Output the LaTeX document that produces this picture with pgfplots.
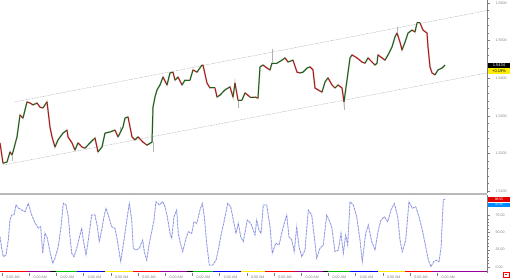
\documentclass[border=0pt]{standalone}
\usepackage{fontspec}
\setmainfont{Liberation Sans}
\usepackage{pgfplots}
\usepackage{pgfplotstable}
\pgfplotsset{compat=1.18}
\definecolor{upc}{RGB}{30,95,20}
\definecolor{dnc}{RGB}{180,20,20}
\definecolor{axgray}{RGB}{125,125,125}
\definecolor{kline}{RGB}{150,100,200}
\definecolor{dline}{RGB}{185,212,248}

\pgfplotstableread{
x p c
0 1.5228 1
3 1.5174 0
7 1.5177 0
10 1.5204 1
12 1.5196 0
13 1.5204 0
17 1.5244 0
20 1.5302 1
23 1.5294 0
27 1.5337 1
30 1.5334 1
33 1.5329 0
37 1.5334 1
40 1.5323 1
43 1.5321 0
47 1.5337 1
48 1.5315 1
50 1.5270 1
52 1.5244 1
55 1.5217 0
58 1.5236 0
63 1.5254 0
67 1.5262 1
68 1.5244 1
72 1.5228 1
75 1.5209 0
78 1.5228 1
82 1.5217 1
85 1.5214 0
90 1.5228 0
95 1.5241 1
98 1.5204 0
102 1.5217 0
105 1.5254 0
110 1.5257 0
115 1.5262 1
118 1.5244 0
123 1.5270 0
125 1.5294 0
128 1.5297 1
132 1.5244 1
135 1.5236 0
138 1.5244 1
143 1.5230 1
147 1.5222 0
152 1.5230 0
153 1.5323 0
155 1.5350 0
157 1.5369 0
160 1.5382 0
163 1.5403 1
167 1.5382 0
170 1.5414 0
173 1.5416 1
175 1.5395 0
178 1.5403 1
182 1.5382 0
185 1.5395 0
190 1.5395 0
193 1.5422 1
197 1.5416 0
202 1.5435 0
203 1.5435 1
207 1.5387 1
210 1.5374 0
215 1.5374 1
217 1.5350 0
220 1.5355 0
225 1.5369 0
230 1.5377 1
233 1.5350 0
235 1.5387 1
238 1.5342 0
242 1.5342 0
245 1.5361 1
250 1.5350 0
255 1.5350 1
258 1.5347 0
260 1.5430 0
263 1.5435 1
267 1.5427 1
270 1.5422 0
272 1.5440 0
277 1.5440 0
282 1.5448 0
285 1.5454 1
288 1.5443 0
293 1.5448 1
297 1.5416 1
300 1.5414 0
303 1.5416 0
307 1.5427 0
310 1.5430 1
313 1.5422 1
315 1.5374 1
318 1.5369 1
322 1.5363 0
325 1.5390 0
328 1.5401 1
332 1.5382 1
335 1.5374 0
338 1.5382 1
342 1.5374 1
344 1.5337 0
347 1.5395 0
350 1.5454 0
352 1.5462 1
357 1.5454 1
362 1.5443 1
365 1.5440 0
368 1.5454 1
372 1.5443 1
375 1.5435 0
377 1.5440 0
378 1.5462 1
382 1.5454 1
385 1.5448 0
388 1.5462 0
392 1.5483 0
395 1.5510 0
397 1.5520 1
400 1.5496 1
402 1.5475 0
405 1.5496 0
408 1.5520 0
412 1.5528 1
415 1.5523 0
417 1.5547 0
420 1.5547 1
423 1.5528 1
427 1.5520 1
428 1.5483 1
430 1.5430 1
432 1.5414 1
435 1.5409 0
438 1.5422 0
442 1.5427 0
445 1.5435 0
}\price

\pgfplotstableread{
x v
0 43.9
1.7 27.5
3.3 14.9
6 17.4
8.3 39.1
10 68.1
11.7 75.4
14 75.4
16 89.9
18.3 85.5
21.7 82.6
25 80.1
28.3 92.3
31.7 75.4
35 63.8
38.3 56.5
40.7 58.4
42.7 19.9
45 49.3
47.3 42.0
50 22.2
52.7 5.4
55 13.0
58.3 29.4
61 58.4
63.3 92.3
66 89.9
68.3 72.9
70 43.9
71.7 19.9
74 14.9
76.7 27.1
80 46.4
81.7 56.1
83.3 39.1
86 17.4
88.3 39.1
91.7 75.4
95 75.4
97.3 58.4
99.3 36.7
101.7 53.6
104 72.9
106 85.1
108.3 75.4
111.7 58.4
115 56.1
117.3 39.1
120.7 7.7
124 39.1
127.3 72.9
129.3 92.3
131.7 68.1
133.3 27.1
136 24.6
139.3 27.1
142.7 39.1
144.3 22.2
146.7 10.1
149.3 34.3
151.7 51.1
154 68.1
156 94.6
159.3 89.9
162.7 94.6
165 87.4
167.3 72.9
170 48.8
171.7 41.6
174 72.9
176.7 82.6
178.3 48.8
180 36.7
182.7 22.2
186 41.6
188.3 51.1
191.7 48.8
194 65.6
196.7 63.3
200 82.6
202.3 92.3
204.3 72.9
206.7 34.3
209.3 2.9
212.7 2.9
216 10.1
218.3 24.6
220.7 43.9
224 65.6
227.7 92.3
230.7 87.4
233.3 68.1
236 48.8
238.3 63.3
240.7 43.9
243.3 36.7
247.3 68.1
250.7 63.3
255 46.4
256.7 68.1
259 53.6
261 48.8
263.3 89.9
266.7 89.9
270 58.4
272.3 19.9
275.7 34.3
279 31.9
283.3 58.4
286.7 75.4
289 43.9
291.7 39.1
294.3 22.2
296.7 58.4
299 29.4
301.7 14.9
305 24.6
308.3 82.6
311.7 75.4
314.3 43.9
316.7 12.6
320 27.1
323.3 31.9
326.7 75.4
329 68.1
331.7 58.4
335 22.2
338.3 24.6
341 48.8
343.3 19.9
345.7 46.4
347.7 31.9
350 94.6
353.3 89.9
356.7 72.9
360 39.1
362.3 7.7
365.7 48.8
368.3 60.9
371.7 36.7
375 24.6
378.3 53.6
381 68.1
384.3 72.9
387.7 65.6
391 82.6
394.3 92.3
397.7 72.9
400 39.1
402.3 22.2
405.7 39.1
409 94.6
412.3 85.1
415.7 87.4
419 72.9
422.3 53.6
425.7 29.4
428.3 10.1
431 0.4
433.7 7.7
436.7 10.1
439 7.7
441 27.1
443.3 97.1
445 98.5
}\stoch

\pgfplotsset{
  tinylab/.style={font=\fontsize{3.6}{4}\selectfont, text=axgray},
  daybar/.style={line width=1.8pt, line cap=butt},
}

\begin{document}
\begin{tikzpicture}[x=1bp,y=1bp]
\path[use as bounding box] (0bp,0bp) rectangle (510bp,-279bp);

% ---------- price panel ----------
\begin{axis}[
  at={(0bp,0bp)}, anchor=north west,
  scale only axis, width=487bp, height=193bp,
  xmin=0, xmax=487, ymin=1.509468, ymax=1.560798,
  axis x line=none,
  axis y line*=right,
  y axis line style={axgray, line width=0.4pt},
  ytick={1.51,1.52,1.53,1.54,1.55,1.56},
  minor y tick num=4,
  tick align=outside,
  major tick length=3bp, minor tick length=1.6bp,
  tick style={axgray, line width=0.3pt},
  yticklabel style={tinylab, xshift=2bp},
  /pgf/number format/.cd, fixed, fixed zerofill, precision=4, assume math mode=true,
  /pgfplots/.cd,
  colormap={updown}{color(0cm)=(upc) color(1cm)=(dnc)},
  point meta min=0, point meta max=1,
]
% channel lines
\addplot[gray!80, line width=0.35pt, dash pattern=on 0.8pt off 0.8pt] coordinates {(15,1.5337) (487,1.5580)};
\addplot[gray!80, line width=0.35pt, dash pattern=on 0.8pt off 0.8pt] coordinates {(3,1.5169) (487,1.5414)};
% wicks
\addplot[gray!60, line width=0.4pt] coordinates {(12,1.5204) (12,1.5180)};
\addplot[gray!60, line width=0.4pt] coordinates {(153,1.5230) (153,1.5205)};
\addplot[gray!60, line width=0.4pt] coordinates {(238,1.5342) (238,1.5322)};
\addplot[gray!60, line width=0.4pt] coordinates {(272,1.5440) (272,1.5478)};
\addplot[gray!60, line width=0.4pt] coordinates {(344,1.5337) (344,1.5315)};
\addplot[gray!60, line width=0.4pt] coordinates {(397,1.5520) (397,1.5535)};
\addplot[gray!60, line width=0.4pt] coordinates {(120,1.5270) (120,1.5252)};
% price halo + coloured path
\addplot[gray!40, line width=1.7pt] table[x=x, y=p] {\price};
\addplot[mesh, shader=flat corner, point meta=\thisrow{c}, line width=1.0pt] table[x=x, y=p] {\price};
\end{axis}

% separator
\fill[gray!55] (0bp,-193bp) rectangle (487bp,-195bp);

% ---------- stochastic panel ----------
\begin{axis}[
  at={(0bp,-195bp)}, anchor=north west,
  scale only axis, width=487bp, height=77.5bp,
  xmin=0, xmax=487, ymin=-7.97, ymax=104.35,
  axis x line*=bottom,
  x axis line style={draw=none},
  axis y line*=right,
  y axis line style={axgray, line width=0.4pt},
  ytick={0,25,50,75},
  extra y ticks={100},
  extra y tick labels={},
  minor y tick num=4,
  tick align=outside,
  major tick length=3bp, minor tick length=1.6bp,
  tick style={axgray, line width=0.3pt},
  yticklabel style={tinylab, xshift=2bp},
  xtick={2,29.2,56.4,83.6,110.8,138,165.2,192.4,219.6,246.8,274,301.2,328.4,355.6,382.8,410,437.2},
  xticklabels={0:00 AM,0:00 AM,0:00 AM,0:00 AM,0:00 AM,0:00 AM,0:00 AM,0:00 AM,0:00 AM,0:00 AM,0:00 AM,0:00 AM,0:00 AM,0:00 AM,0:00 AM,0:00 AM,0:00 AM},
  x tick style={axgray, line width=0.3pt},
  xticklabel style={tinylab, anchor=north west, xshift=0.8bp, yshift=3bp},
  /pgf/number format/.cd, fixed, fixed zerofill, precision=2, assume math mode=true,
]
\addplot[dline, line width=1.0pt] table[x=x, y=v] {\stoch};
\addplot[kline, line width=0.4pt, dash pattern=on 2pt off 1.5pt] table[x=x, y=v] {\stoch};
% day colour bar
\addplot[red, daybar] coordinates {(0,-6.6) (27,-6.6)};
\addplot[violet!80!magenta, daybar] coordinates {(27,-6.6) (50,-6.6)};
\addplot[black, daybar] coordinates {(50,-6.6) (56,-6.6)};
\addplot[green!75!black, daybar] coordinates {(56,-6.6) (77,-6.6)};
\addplot[blue, daybar] coordinates {(77,-6.6) (105,-6.6)};
\addplot[yellow!90!orange, daybar] coordinates {(105,-6.6) (133,-6.6)};
\addplot[red, daybar] coordinates {(133,-6.6) (160,-6.6)};
\addplot[violet!80!magenta, daybar] coordinates {(160,-6.6) (187,-6.6)};
\addplot[black, daybar] coordinates {(187,-6.6) (193,-6.6)};
\addplot[green!75!black, daybar] coordinates {(193,-6.6) (213,-6.6)};
\addplot[blue, daybar] coordinates {(213,-6.6) (241,-6.6)};
\addplot[yellow!90!orange, daybar] coordinates {(241,-6.6) (265,-6.6)};
\addplot[red, daybar] coordinates {(265,-6.6) (295,-6.6)};
\addplot[violet!80!magenta, daybar] coordinates {(295,-6.6) (323,-6.6)};
\addplot[black, daybar] coordinates {(323,-6.6) (328,-6.6)};
\addplot[green!75!black, daybar] coordinates {(328,-6.6) (350,-6.6)};
\addplot[blue, daybar] coordinates {(350,-6.6) (378,-6.6)};
\addplot[yellow!90!orange, daybar] coordinates {(378,-6.6) (405,-6.6)};
\addplot[red, daybar] coordinates {(405,-6.6) (432,-6.6)};
\addplot[violet!80!magenta, daybar] coordinates {(432,-6.6) (487,-6.6)};
\end{axis}

% value boxes
\fill[black] (488bp,-62.5bp) rectangle (510bp,-67.8bp);
\node[text=white, font=\fontsize{4}{4}\selectfont, inner sep=0pt] at (499bp,-65.1bp) {1.5434};
\fill[yellow!95!orange] (488bp,-68.3bp) rectangle (510bp,-73.6bp);
\node[text=black, font=\fontsize{4}{4}\selectfont, inner sep=0pt] at (499bp,-71bp) {+0.19\%};
\fill[red!90!black] (488bp,-196.8bp) rectangle (510bp,-202.3bp);
\node[text=white, font=\fontsize{3.4}{3.4}\selectfont, inner sep=0pt] at (499bp,-199.3bp) {98.55};
\fill[blue!45!cyan] (488bp,-202.6bp) rectangle (510bp,-206.6bp);
\node[text=white, font=\fontsize{3}{3}\selectfont, inner sep=0pt] at (499bp,-204.9bp) {97.02};
% small icon
\draw[red, line width=0.5pt] (503bp,-272.5bp) rectangle (509bp,-277bp);
\fill[red] (504.6bp,-274.2bp) rectangle (507.4bp,-275.3bp);
\end{tikzpicture}
\end{document}
